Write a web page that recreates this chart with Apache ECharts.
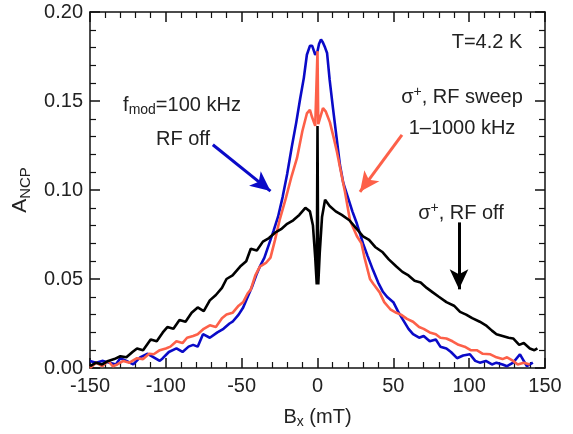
<!DOCTYPE html>
<html>
<head>
<meta charset="utf-8">
<script src="https://cdn.jsdelivr.net/npm/echarts@6/dist/echarts.min.js"></script>
<style>
    html, body { margin: 0; padding: 0; background: #fff; }
    #chart { width: 573px; height: 434px; }
</style>
</head>
<body>
<div id="chart"></div>
<script>
// σ+, RF off
var rfOff = [
    [-150, 0.001], [-146, 0.003], [-142, 0.002], [-138, 0.004], [-134, 0.005],
    [-130, 0.0066], [-126, 0.006], [-122, 0.009], [-119, 0.011], [-115, 0.010],
    [-110, 0.016], [-106, 0.015], [-102, 0.020], [-99, 0.023], [-95, 0.022],
    [-91, 0.027], [-87, 0.026], [-83, 0.031], [-79, 0.034], [-75, 0.032],
    [-71, 0.038], [-67, 0.041], [-63, 0.045], [-60, 0.050], [-56, 0.052],
    [-51, 0.057], [-47, 0.060], [-44, 0.067], [-40, 0.066], [-36, 0.071],
    [-32, 0.073], [-28, 0.076], [-24, 0.078], [-20, 0.081], [-16, 0.083],
    [-12, 0.086], [-8, 0.090], [-5, 0.088], [-3, 0.080], [-1.5, 0.062],
    [-0.5, 0.047], [0, 0.136], [0.5, 0.047], [1.5, 0.065], [3, 0.085],
    [5, 0.0945], [8, 0.091], [12, 0.088], [16, 0.086], [21, 0.083],
    [25, 0.079], [30, 0.074], [34, 0.072], [38, 0.068], [43, 0.065],
    [47, 0.061], [52, 0.057], [56, 0.054], [60, 0.052], [64, 0.049],
    [68, 0.048], [72, 0.045], [76, 0.0425], [80, 0.040], [85, 0.037],
    [90, 0.035], [94, 0.0315], [98, 0.030], [102, 0.028], [107, 0.026],
    [111, 0.024], [115, 0.021], [118, 0.019], [122, 0.018], [126, 0.017],
    [129, 0.0166], [133, 0.013], [136, 0.014], [140, 0.011], [143, 0.010],
    [145, 0.011]
];

// σ+, RF sweep 1-1000 kHz
var rfSweep = [
    [-150, 0.000], [-146, 0.003], [-142, 0.001], [-138, 0.004], [-135, 0.001],
    [-132, 0.002], [-128, 0.004], [-124, 0.003], [-119, 0.0055], [-115, 0.005],
    [-111, 0.008], [-108, 0.0077], [-104, 0.010], [-100, 0.011], [-97, 0.012],
    [-93, 0.015], [-89, 0.014], [-86, 0.017], [-82, 0.018], [-79, 0.019],
    [-75, 0.022], [-71, 0.024], [-67, 0.023], [-63, 0.028], [-60, 0.030],
    [-56, 0.031], [-52, 0.035], [-49, 0.037], [-46, 0.042], [-44, 0.044],
    [-41, 0.052], [-38, 0.057], [-34, 0.059], [-31, 0.062], [-28, 0.072],
    [-25, 0.083], [-21, 0.095], [-17, 0.108], [-13.5, 0.118], [-10, 0.133],
    [-7, 0.143], [-5, 0.145], [-3.6, 0.141], [-1.5, 0.136], [-0.5, 0.137],
    [0, 0.178], [0.5, 0.137], [1.5, 0.138], [3.6, 0.146], [5.5, 0.144],
    [8.2, 0.138], [10.5, 0.130], [12.8, 0.1215], [15.5, 0.110], [18, 0.0995],
    [21.4, 0.083], [24, 0.078], [26, 0.074], [29, 0.070], [31, 0.062],
    [34.6, 0.050], [37, 0.047], [41, 0.0425], [44, 0.037], [48, 0.033],
    [52, 0.031], [55, 0.030], [59, 0.0276], [63, 0.026], [67, 0.023],
    [70, 0.022], [74, 0.020], [78, 0.019], [81, 0.017], [85, 0.0166],
    [89, 0.015], [93, 0.013], [97, 0.012], [101, 0.010], [105, 0.010],
    [109, 0.008], [114, 0.0077], [118, 0.006], [122, 0.005], [125, 0.006],
    [129, 0.004], [132, 0.002], [136, 0.003], [140, 0.002]
];

// fmod = 100 kHz, RF off
var fmod = [
    [-150, 0.004], [-146, 0.003], [-142, 0.004], [-137, 0.003], [-133, 0.002],
    [-130, 0.0055], [-126, 0.004], [-121.5, 0.002], [-117, 0.006], [-112, 0.008],
    [-108, 0.006], [-104, 0.004], [-102, 0.0055], [-98, 0.009], [-93, 0.011],
    [-89, 0.009], [-85, 0.012], [-82, 0.013], [-79, 0.012], [-75.5, 0.019],
    [-71, 0.017], [-66, 0.020], [-62, 0.022], [-58, 0.025], [-56, 0.026],
    [-52, 0.030], [-49, 0.034], [-46.5, 0.039], [-43, 0.046], [-40, 0.053],
    [-38, 0.057], [-35, 0.062], [-31, 0.072], [-29, 0.077], [-26, 0.085],
    [-23, 0.096], [-20, 0.109], [-17, 0.124], [-14, 0.138], [-11.5, 0.151],
    [-9, 0.163], [-7, 0.176], [-5, 0.181], [-3.5, 0.181], [-1.5, 0.176],
    [0, 0.178], [1, 0.182], [2.3, 0.1845], [3.5, 0.183], [5, 0.180],
    [6.3, 0.177], [8, 0.162], [10.2, 0.146], [12.5, 0.130], [14.8, 0.114],
    [17, 0.104], [20, 0.096], [23, 0.088], [26, 0.081], [30, 0.070],
    [33, 0.063], [36.6, 0.055], [40, 0.048], [43, 0.043], [45.8, 0.040],
    [50, 0.037], [53, 0.032], [56, 0.0276], [60, 0.022], [63, 0.019],
    [67, 0.017], [70, 0.018], [74, 0.015], [78, 0.016], [81, 0.012],
    [85, 0.011], [88, 0.009], [92, 0.0055], [96, 0.007], [100.5, 0.0077],
    [104, 0.004], [107, 0.003], [111, 0.004], [115, 0.002], [118, 0.003],
    [122, 0.002], [125, 0.001], [129, 0.003], [133.5, 0.0077], [136, 0.004],
    [138, 0.001], [142, 0.003]
];

// arrows, in data coordinates: [from, to]
var arrowBlue = [[-69, 0.1254], [-31, 0.0994]];
var arrowRed = [[55.7, 0.131], [28, 0.099]];
var arrowBlack = [[93.3, 0.0818], [93.3, 0.0442]];

var blueColor = "#0a0ac8";
var redColor = "#fd6049";
var font = "Liberation Sans, Arial, Helvetica, sans-serif";
var textColor = "#222";
var fs = 20;

var chart = echarts.init(document.getElementById("chart"));

function arrowLine(pts, color) {
    return {
        silent: true,
        symbol: ["none", "arrow"],
        symbolSize: [14, 20],
        label: { show: false },
        lineStyle: { color: color, width: 3, type: "solid" },
        data: [[{ coord: pts[0] }, { coord: pts[1] }]]
    };
}

var axisLineStyle = { show: true, onZero: false, lineStyle: { color: "#111", width: 1.5 } };
var majorTick = { show: true, inside: true, length: 10, lineStyle: { color: "#111", width: 1.5 } };
var minorTick = { show: true, inside: true, length: 6, splitNumber: 5, lineStyle: { color: "#111", width: 1.2 } };

var option = {
    backgroundColor: "#fff",
    animation: false,
    grid: { left: 90, right: 28, top: 12, bottom: 58, containLabel: false },
    xAxis: [
        {
            type: "value",
            min: -150,
            max: 150,
            interval: 50,
            position: "bottom",
            axisLine: axisLineStyle,
            axisTick: majorTick,
            minorTick: minorTick,
            splitLine: { show: false },
            axisLabel: { color: textColor, fontSize: fs, fontFamily: font, margin: 8 },
            name: "B{sub|x} (mT)",
            nameLocation: "middle",
            nameGap: 37,
            nameTextStyle: {
                color: textColor, fontSize: fs, fontFamily: font,
                rich: { sub: { fontSize: 14, fontFamily: font, color: textColor, verticalAlign: "bottom", padding: [10, 0, 0, 0] } }
            }
        },
        {
            type: "value",
            min: -150,
            max: 150,
            interval: 50,
            position: "top",
            axisLine: axisLineStyle,
            axisTick: majorTick,
            minorTick: minorTick,
            splitLine: { show: false },
            axisLabel: { show: false }
        }
    ],
    yAxis: [
        {
            type: "value",
            min: 0,
            max: 0.2,
            interval: 0.05,
            position: "left",
            axisLine: axisLineStyle,
            axisTick: majorTick,
            minorTick: minorTick,
            splitLine: { show: false },
            axisLabel: {
                color: textColor, fontSize: fs, fontFamily: font, margin: 7,
                formatter: function(v) { return v.toFixed(2); }
            },
            name: "A{sub|NCP}",
            nameLocation: "middle",
            nameRotate: 90,
            nameGap: 46,
            nameTextStyle: {
                color: textColor, fontSize: 21, fontFamily: font,
                rich: { sub: { fontSize: 15, fontFamily: font, color: textColor, verticalAlign: "bottom", padding: [10, 0, 0, 0] } }
            }
        },
        {
            type: "value",
            min: 0,
            max: 0.2,
            interval: 0.05,
            position: "right",
            axisLine: axisLineStyle,
            axisTick: majorTick,
            minorTick: minorTick,
            splitLine: { show: false },
            axisLabel: { show: false }
        }
    ],
    series: [
        {
            name: "fmod=100 kHz, RF off",
            type: "line",
            data: fmod,
            showSymbol: false,
            symbol: "none",
            lineStyle: { color: blueColor, width: 2.6 },
            markLine: arrowLine(arrowBlue, blueColor),
            z: 2
        },
        {
            name: "σ+, RF sweep",
            type: "line",
            data: rfSweep,
            showSymbol: false,
            symbol: "none",
            lineStyle: { color: redColor, width: 2.6 },
            markLine: arrowLine(arrowRed, redColor),
            z: 3
        },
        {
            name: "σ+, RF off",
            type: "line",
            data: rfOff,
            showSymbol: false,
            symbol: "none",
            lineStyle: { color: "#000", width: 2.6 },
            markLine: arrowLine(arrowBlack, "#000"),
            z: 4
        }
    ],
    graphic: [
        {
            type: "text",
            x: 487, y: 42,
            style: { text: "T=4.2 K", fill: textColor, font: fs + "px " + font, align: "center", verticalAlign: "middle" }
        },
        {
            type: "text",
            x: 182, y: 105,
            style: {
                text: "f{sub|mod}=100 kHz",
                fill: textColor, font: fs + "px " + font,
                align: "center", verticalAlign: "middle",
                rich: { sub: { fontSize: 14, fontFamily: font, fill: textColor, verticalAlign: "bottom", padding: [10, 0, 0, 0] } }
            }
        },
        {
            type: "text",
            x: 183, y: 139,
            style: { text: "RF off", fill: textColor, font: fs + "px " + font, align: "center", verticalAlign: "middle" }
        },
        {
            type: "text",
            x: 462, y: 97,
            style: {
                text: "σ{sup|+}, RF sweep",
                fill: textColor, font: fs + "px " + font,
                align: "center", verticalAlign: "middle",
                rich: { sup: { fontSize: 14, fontFamily: font, fill: textColor, verticalAlign: "top", padding: [0, 0, 10, 0] } }
            }
        },
        {
            type: "text",
            x: 462, y: 128,
            style: { text: "1–1000 kHz", fill: textColor, font: fs + "px " + font, align: "center", verticalAlign: "middle" }
        },
        {
            type: "text",
            x: 461, y: 213,
            style: {
                text: "σ{sup|+}, RF off",
                fill: textColor, font: fs + "px " + font,
                align: "center", verticalAlign: "middle",
                rich: { sup: { fontSize: 14, fontFamily: font, fill: textColor, verticalAlign: "top", padding: [0, 0, 10, 0] } }
            }
        }
    ]
};

chart.setOption(option);
</script>
</body>
</html>
